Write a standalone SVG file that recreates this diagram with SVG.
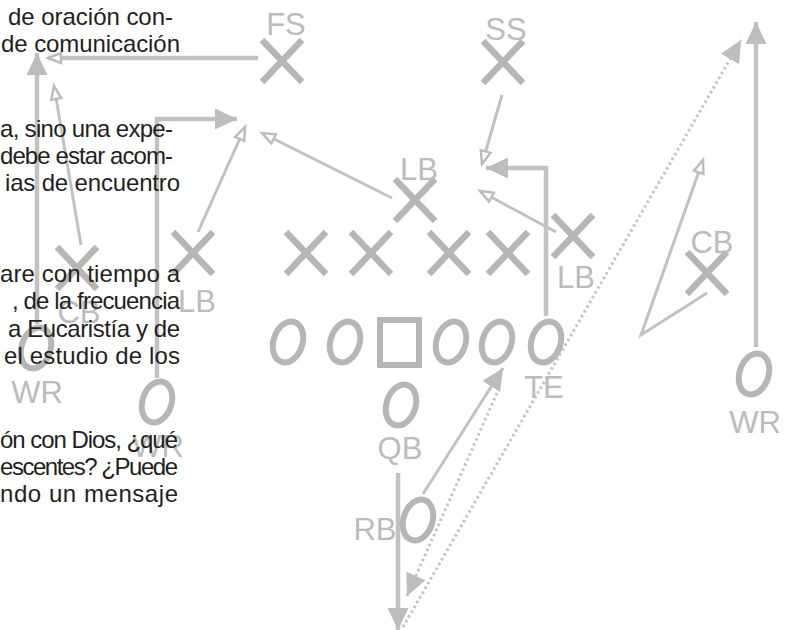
<svg xmlns="http://www.w3.org/2000/svg" width="785" height="630" viewBox="0 0 785 630">
<style>
.bg{fill:#fff}
.x{stroke:#b6b6b6;stroke-width:6.5;fill:none}
.o{stroke:#b6b6b6;stroke-width:6;fill:none}
.lbl{font-family:"Liberation Sans",Arial,sans-serif;font-size:31px;fill:#bcbcbc;text-anchor:middle}
.rt{stroke:#c2c2c2;stroke-width:4.5;fill:none}
.thin{stroke:#c2c2c2;stroke-width:3;fill:none}
.dot{stroke:#c4c4c4;stroke-width:3;fill:none;stroke-dasharray:2.5 3}
.txt{font-family:"Liberation Sans",Arial,sans-serif;font-size:24px;fill:#231f20}
</style>
<defs>
<marker id="af" markerUnits="userSpaceOnUse" viewBox="0 0 24 22" markerWidth="24" markerHeight="22" refX="22" refY="11" orient="auto"><path d="M0,0.5 L22,11 L0,21.5 z" fill="#bdbdbd"/></marker>
<marker id="ao" markerUnits="userSpaceOnUse" viewBox="0 0 18 14" markerWidth="18" markerHeight="14" refX="15" refY="7" orient="auto"><path d="M2,2 L15,7 L2,12 z" fill="#fff" stroke="#bdbdbd" stroke-width="2.5"/></marker>
<g id="xs"><path d="M-20,-21 L20,21 M20,-21 L-20,21"/></g>
<ellipse id="os" cx="0" cy="0" rx="14.5" ry="21" transform="rotate(18)"/>
</defs>
<rect class="bg" x="0" y="0" width="785" height="630"/>

<g id="connectors">
<path class="rt" d="M258,58 L48,58" marker-end="url(#ao)"/>
<path class="rt" d="M37,324 L37,53" marker-end="url(#af)"/>
<path class="thin" d="M81,245 L54,86" marker-end="url(#ao)"/>
<path class="rt" d="M157,378 L157,119 L237,119" marker-end="url(#af)"/>
<path class="thin" d="M198,232 L245,127" marker-end="url(#ao)"/>
<path class="thin" d="M392,198 L262,133" marker-end="url(#ao)"/>
<path class="thin" d="M502,95 L482,164" marker-end="url(#ao)"/>
<path class="rt" d="M546,316 L546,168 L486,168" marker-end="url(#af)"/>
<path class="thin" d="M556,232 L480,191" marker-end="url(#ao)"/>
<path class="thin" d="M707,293 L641,335 L703,160" marker-end="url(#ao)"/>
<path class="rt" d="M756,347 L756,22" marker-end="url(#af)"/>
<path class="rt" d="M398,473 L398,630" marker-end="url(#af)"/>
<path class="thin" d="M423,494 L503,368" marker-end="url(#af)"/>
<path class="dot" d="M497,393 L407,596" marker-end="url(#af)"/>
<path class="dot" d="M403,627 L741,40" marker-end="url(#af)"/>
</g>

<g id="fs"><use href="#xs" class="x" x="282" y="61"/><text class="lbl" x="286" y="35">FS</text></g>
<g id="ss"><use href="#xs" class="x" x="503" y="62"/><text class="lbl" x="506" y="40">SS</text></g>
<g id="lb-mid"><use href="#xs" class="x" x="415" y="200"/><text class="lbl" x="419" y="180">LB</text></g>
<g id="lb-right"><use href="#xs" class="x" x="573" y="236"/><text class="lbl" x="576" y="288">LB</text></g>
<g id="lb-left"><use href="#xs" class="x" x="193" y="253"/><text class="lbl" x="197" y="312">LB</text></g>
<g id="cb-left"><use href="#xs" class="x" x="77" y="268"/><text class="lbl" x="79" y="323">CB</text></g>
<g id="cb-right"><use href="#xs" class="x" x="707" y="273"/><text class="lbl" x="712" y="253">CB</text></g>
<g id="dl1"><use href="#xs" class="x" x="306" y="253"/></g>
<g id="dl2"><use href="#xs" class="x" x="371" y="253"/></g>
<g id="dl3"><use href="#xs" class="x" x="449" y="253"/></g>
<g id="dl4"><use href="#xs" class="x" x="508" y="253"/></g>

<g id="ol1"><use href="#os" class="o" x="288" y="342"/></g>
<g id="ol2"><use href="#os" class="o" x="345" y="342"/></g>
<g id="center"><rect class="o" x="380" y="320" width="39" height="45"/></g>
<g id="ol3"><use href="#os" class="o" x="451" y="342"/></g>
<g id="ol4"><use href="#os" class="o" x="497" y="342"/></g>
<g id="te"><use href="#os" class="o" x="546" y="342"/><text class="lbl" x="544" y="398">TE</text></g>
<g id="wr-left"><use href="#os" class="o" x="36" y="348"/><text class="lbl" x="37" y="403">WR</text></g>
<g id="wr-slot"><use href="#os" class="o" x="157" y="402"/><text class="lbl" x="158" y="457">WR</text></g>
<g id="qb"><use href="#os" class="o" x="401" y="405"/><text class="lbl" x="400" y="459">QB</text></g>
<g id="rb"><use href="#os" class="o" x="418" y="520"/><text class="lbl" x="375" y="540">RB</text></g>
<g id="wr-right"><use href="#os" class="o" x="754" y="374"/><text class="lbl" x="755" y="433">WR</text></g>

<g id="body-text" class="txt">
<text x="8" y="25" textLength="165">de oración con-</text>
<text x="1" y="52" textLength="179">de comunicación</text>
<text x="0" y="137" textLength="173">a, sino una expe-</text>
<text x="0" y="164" textLength="173">debe estar acom-</text>
<text x="5" y="191" textLength="175">ias de encuentro</text>
<text x="0" y="282" textLength="180">are con tiempo a</text>
<text x="12" y="309" textLength="168">, de la frecuencia</text>
<text x="8" y="337" textLength="172">a Eucaristía y de</text>
<text x="4" y="364" textLength="176">el estudio de los</text>
<text x="0" y="448" textLength="178">ón con Dios, ¿qué</text>
<text x="0" y="475" textLength="178">escentes? ¿Puede</text>
<text x="0" y="502" textLength="178">ndo un mensaje</text>
</g>
</svg>
